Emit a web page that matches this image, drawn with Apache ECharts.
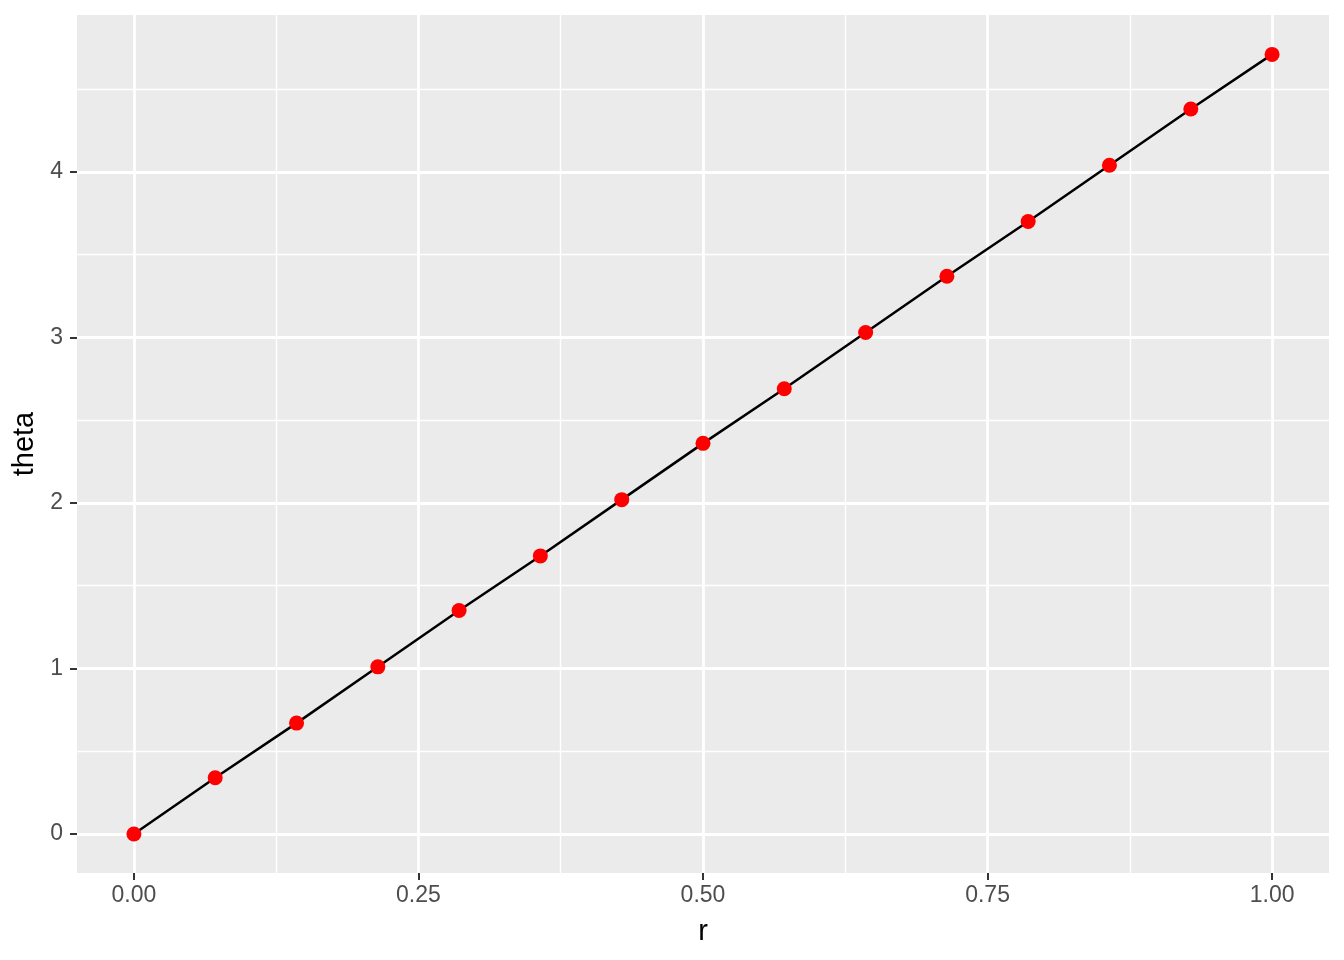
<!DOCTYPE html>
<html>
<head>
<meta charset="utf-8">
<script src="https://cdn.jsdelivr.net/npm/echarts@6/dist/echarts.min.js"></script>
<style>
html,body{margin:0;padding:0;background:#fff;}
#chart{width:1344px;height:960px;}
</style>
</head>
<body>
<div id="chart"></div>
<script>
// data
const rValues = [0, 0.0714, 0.1429, 0.2143, 0.2857, 0.3571, 0.4286, 0.5, 0.5714, 0.6429, 0.7143, 0.7857, 0.8571, 0.9286, 1];
const thetaValues = [0, 0.34, 0.67, 1.01, 1.35, 1.68, 2.02, 2.36, 2.69, 3.03, 3.37, 3.70, 4.04, 4.38, 4.71];
const xTicks = [0, 0.25, 0.5, 0.75, 1];
const yTicks = [0, 1, 2, 3, 4];
const xMinor = [0.125, 0.375, 0.625, 0.875];
const yMinor = [0.5, 1.5, 2.5, 3.5, 4.5];

const points = rValues.map((r, i) => [r, thetaValues[i]]);
const FONT = "'Liberation Sans', Arial, Helvetica, sans-serif";

const gridLines = [];
xMinor.forEach(v => gridLines.push({xAxis: v, lineStyle: {color: '#fff', width: 1.4, type: 'solid'}}));
yMinor.forEach(v => gridLines.push({yAxis: v, lineStyle: {color: '#fff', width: 1.4, type: 'solid'}}));
xTicks.forEach(v => gridLines.push({xAxis: v, lineStyle: {color: '#fff', width: 2.8, type: 'solid'}}));
yTicks.forEach(v => gridLines.push({yAxis: v, lineStyle: {color: '#fff', width: 2.8, type: 'solid'}}));

const chart = echarts.init(document.getElementById('chart'), null, {renderer: 'canvas'});
chart.setOption({
  animation: false,
  backgroundColor: '#fff',
  textStyle: {fontFamily: FONT},
  grid: {left: 77, right: 15, top: 15, bottom: 87, show: true, backgroundColor: '#EBEBEB', borderWidth: 0},
  xAxis: {
    type: 'value', min: -0.05, max: 1.05,
    splitLine: {show: false},
    axisLine: {show: false, onZero: false},
    axisTick: {show: true, customValues: xTicks, length: 7, lineStyle: {color: '#333333', width: 2}},
    axisLabel: {customValues: xTicks, formatter: v => v.toFixed(2), color: '#4D4D4D', fontSize: 23, margin: 11, fontFamily: FONT},
    name: 'r', nameLocation: 'middle', nameGap: 44,
    nameTextStyle: {color: '#000', fontSize: 29, fontFamily: FONT}
  },
  yAxis: {
    type: 'value', min: -0.2356, max: 4.948,
    splitLine: {show: false},
    axisLine: {show: false, onZero: false},
    axisTick: {show: true, customValues: yTicks, length: 7, lineStyle: {color: '#333333', width: 2}},
    axisLabel: {customValues: yTicks, formatter: v => String(v), color: '#4D4D4D', fontSize: 23, margin: 14, fontFamily: FONT},
    name: 'theta', nameLocation: 'middle', nameGap: 36,
    nameTextStyle: {color: '#000', fontSize: 29, fontFamily: FONT}
  },
  series: [
    {
      type: 'line', data: [], z: 1, silent: true,
      markLine: {silent: true, z: 1, precision: 6, symbol: ['none', 'none'], label: {show: false}, animation: false,
        emphasis: {disabled: true}, data: gridLines}
    },
    {
      type: 'line', data: points, z: 10, symbol: 'none', silent: true,
      lineStyle: {color: '#000', width: 2.5}
    },
    {
      type: 'scatter', data: points, z: 11, symbolSize: 15,
      itemStyle: {color: '#FF0000', opacity: 1}
    }
  ]
});
</script>
</body>
</html>
